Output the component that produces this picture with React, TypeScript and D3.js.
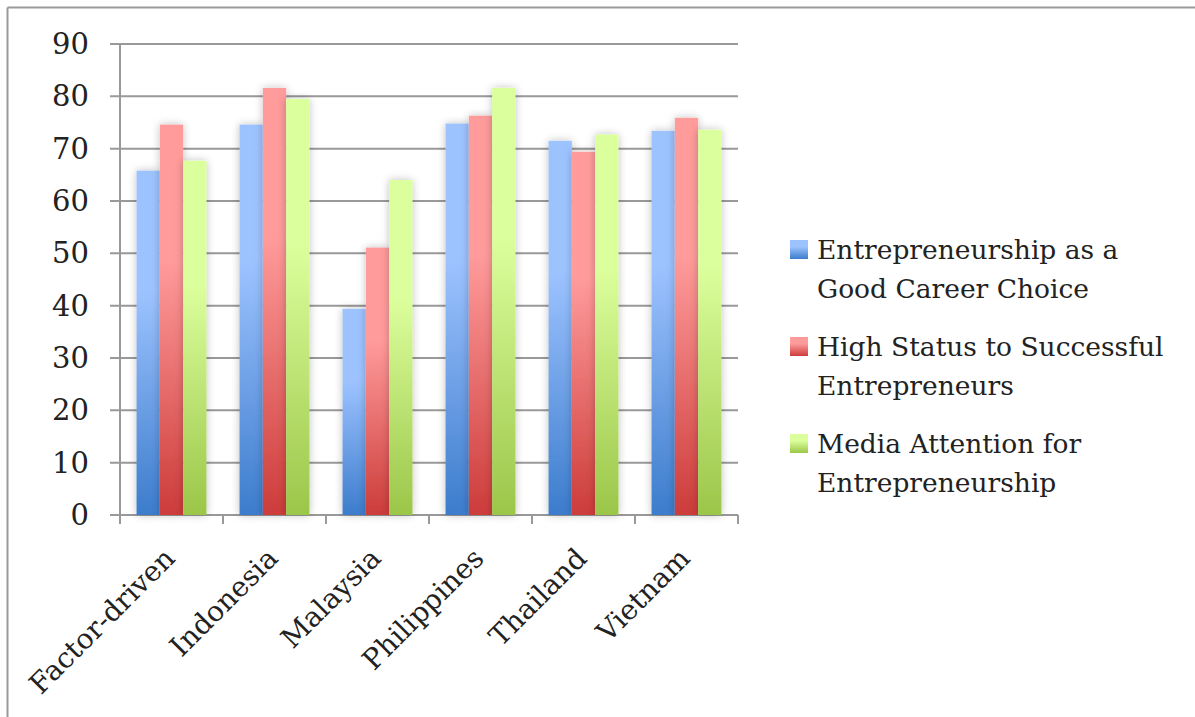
import React from "react";
import * as d3 from "d3";

const categories = ["Factor-driven", "Indonesia", "Malaysia", "Philippines", "Thailand", "Vietnam"];
const seriesNames = [
  ["Entrepreneurship as a", "Good Career Choice"],
  ["High Status to Successful", "Entrepreneurs"],
  ["Media Attention for", "Entrepreneurship"],
];
const goodCareer = [65.8, 74.6, 39.4, 74.8, 71.5, 73.4];
const highStatus = [74.6, 81.6, 51.1, 76.3, 69.4, 75.9];
const mediaAttention = [67.7, 79.5, 64.0, 81.6, 72.7, 73.6];
const yTicks = [0, 10, 20, 30, 40, 50, 60, 70, 80, 90];

const series = [goodCareer, highStatus, mediaAttention];
const gradients = [
  { id: "gBlue", top: "#9dc3ff", bottom: "#3c7ccc" },
  { id: "gRed", top: "#ff9b9b", bottom: "#cc3c3a" },
  { id: "gGreen", top: "#dcff9d", bottom: "#9bc649" },
];

const W = 1195;
const H = 717;
const FONT = "'DejaVu Serif', serif";

export default function App() {
  const left = 120, right = 738, top = 44, bottom = 515;
  const x = d3.scaleBand<string>().domain(categories).range([left, right]).paddingInner(0).paddingOuter(0);
  const inner = d3.scaleBand<number>().domain([0, 1, 2]).range([0, x.bandwidth()]).paddingOuter(0.71).paddingInner(0);
  const y = d3.scaleLinear().domain([0, 90]).range([bottom, top]);

  return (
    <svg width={W} height={H} style={{ position: "absolute", left: 0, top: 0, background: "#fff" }}>
      <defs>
        {gradients.map((g) => (
          <linearGradient key={g.id} id={g.id} x1="0" y1="0" x2="0" y2="1">
            <stop offset="0" stopColor={g.top} />
            <stop offset="0.35" stopColor={g.top} stopOpacity={1} />
            <stop offset="1" stopColor={g.bottom} />
          </linearGradient>
        ))}
        <filter id="shadow" x="-40%" y="-10%" width="180%" height="120%">
          <feGaussianBlur in="SourceAlpha" stdDeviation="4" />
          <feOffset dx="0" dy="0" result="b" />
          <feComponentTransfer>
            <feFuncA type="linear" slope="0.25" />
          </feComponentTransfer>
          <feMerge>
            <feMergeNode />
            <feMergeNode in="SourceGraphic" />
          </feMerge>
        </filter>
      </defs>
      <rect x={0} y={0} width={W} height={H} fill="#fff" />
      <line x1={7.5} y1={7.5} x2={W} y2={7.5} stroke="#9a9a9a" strokeWidth={2} />
      <line x1={7.5} y1={7.5} x2={7.5} y2={H} stroke="#9a9a9a" strokeWidth={2} />

      {yTicks.map((t) => (
        <line key={t} x1={left - 10} x2={right} y1={y(t)} y2={y(t)} stroke="#999" strokeWidth={2} />
      ))}
      <line x1={left} x2={left} y1={top} y2={bottom + 8} stroke="#999" strokeWidth={2} />
      {[...categories.map((c) => x(c)!), right].map((px, i) => (
        <line key={i} x1={px} x2={px} y1={bottom} y2={bottom + 9} stroke="#999" strokeWidth={2} />
      ))}

      {categories.map((c, ci) =>
        series.map((s, si) => (
          <rect
            key={c + si}
            x={x(c)! + inner(si)!}
            y={y(s[ci])}
            width={inner.bandwidth()}
            height={y(0) - y(s[ci])}
            fill={`url(#${gradients[si].id})`}
            filter="url(#shadow)"
          />
        ))
      )}

      {yTicks.map((t) => (
        <text key={t} x={left - 31} y={y(t) + 10} textAnchor="end" fontFamily={FONT} fontSize={29} fill="#222">
          {t}
        </text>
      ))}

      {categories.map((c) => {
        const cx = x(c)! + x.bandwidth() / 2 + 5;
        const cy = bottom + 45;
        return (
          <text key={c} x={cx} y={cy} transform={`rotate(-45 ${cx} ${cy})`} textAnchor="end" fontFamily={FONT} fontSize={28} fill="#222">
            {c}
          </text>
        );
      })}

      {seriesNames.map((lines, i) => {
        const y0 = 259 + i * 97;
        return (
          <g key={i}>
            <rect x={790} y={y0 - 19} width={18} height={19} fill={`url(#${gradients[i].id})`} />
            {lines.map((l, li) => (
              <text key={li} x={817} y={y0 + li * 39} fontFamily={FONT} fontSize={26.5} fill="#222">
                {l}
              </text>
            ))}
          </g>
        );
      })}
    </svg>
  );
}
